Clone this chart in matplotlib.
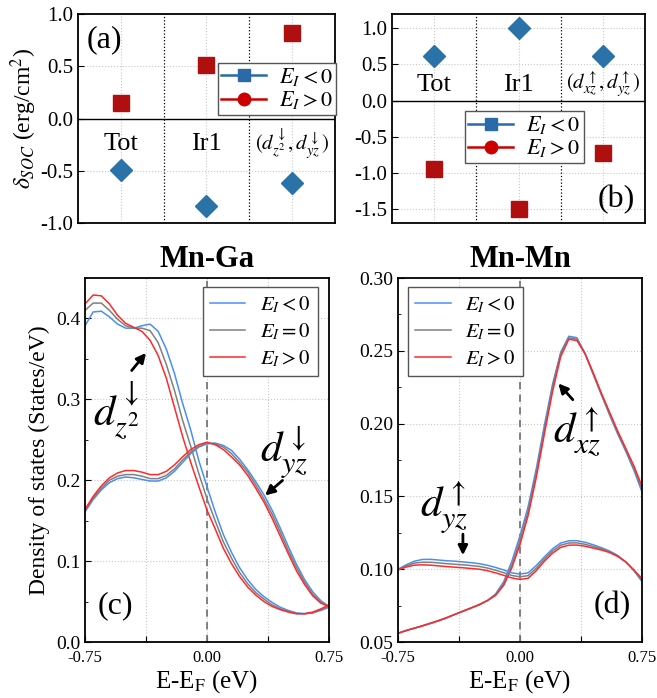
import numpy as np
import matplotlib
matplotlib.use('Agg')
import matplotlib.pyplot as plt
from matplotlib.lines import Line2D
from matplotlib.ticker import MultipleLocator

plt.rcParams['font.family'] = 'serif'
plt.rcParams['font.serif'] = ['Liberation Serif', 'DejaVu Serif']
plt.rcParams['mathtext.fontset'] = 'stix'

# top panels: SOC energy per site / orbital
cats = [1, 2, 3]
cat_names_a = ['Tot', 'Ir1', r'$(d^{\downarrow}_{z^2},d^{\downarrow}_{yz})$']
cat_names_b = ['Tot', 'Ir1', r'$(d^{\uparrow}_{xz},d^{\uparrow}_{yz})$']
soc_a_neg = [-0.49, -0.84, -0.62]
soc_a_pos = [0.15, 0.51, 0.82]
soc_b_neg = [0.62, 1.00, 0.62]
soc_b_pos = [-0.95, -1.50, -0.73]

# bottom panels: projected DOS
energy = [-0.75, -0.70, -0.65, -0.60, -0.55, -0.50, -0.45, -0.40, -0.35, -0.30, -0.25,
          -0.20, -0.15, -0.10, -0.05, 0.00, 0.05, 0.10, 0.15, 0.20, 0.25,
          0.30, 0.35, 0.40, 0.45, 0.50, 0.55, 0.60, 0.65, 0.70, 0.75]

c_z2_neg = [0.391, 0.408, 0.409, 0.402, 0.393, 0.388, 0.388, 0.391, 0.393, 0.384, 0.362, 0.332,
            0.295, 0.262, 0.224, 0.192, 0.161, 0.133, 0.111,
            0.092, 0.077, 0.065, 0.056, 0.049, 0.043, 0.039, 0.036, 0.035, 0.036, 0.039, 0.043]
c_z2_zero = [0.410, 0.419, 0.419, 0.410, 0.399, 0.391, 0.388, 0.388, 0.385, 0.370, 0.343, 0.311,
             0.274, 0.242, 0.208, 0.177, 0.150, 0.124, 0.104,
             0.086, 0.072, 0.061, 0.053, 0.046, 0.041, 0.038, 0.035, 0.035, 0.036, 0.040, 0.044]
c_z2_pos = [0.418, 0.429, 0.428, 0.418, 0.404, 0.394, 0.389, 0.384, 0.373, 0.354, 0.326, 0.290,
            0.254, 0.222, 0.192, 0.163, 0.140, 0.116, 0.097,
            0.081, 0.068, 0.058, 0.050, 0.044, 0.040, 0.037, 0.035, 0.035, 0.037, 0.041, 0.046]

c_yz_neg = [0.161, 0.176, 0.188, 0.197, 0.202, 0.204, 0.203, 0.201, 0.199, 0.199, 0.203, 0.211,
            0.222, 0.233, 0.241, 0.245,
            0.246, 0.243, 0.237, 0.226, 0.213, 0.198, 0.182, 0.163, 0.141, 0.118, 0.096, 0.077, 0.062, 0.051, 0.044]
c_yz_zero = [0.162, 0.178, 0.190, 0.200, 0.205, 0.207, 0.207, 0.205, 0.202, 0.202, 0.206, 0.214,
             0.225, 0.235, 0.242, 0.246,
             0.245, 0.241, 0.233, 0.222, 0.210, 0.194, 0.177, 0.158, 0.136, 0.113, 0.092, 0.074, 0.059, 0.049, 0.044]
c_yz_pos = [0.164, 0.180, 0.193, 0.203, 0.209, 0.212, 0.212, 0.210, 0.207, 0.207, 0.211, 0.219,
            0.229, 0.238, 0.244, 0.247,
            0.244, 0.238, 0.229, 0.219, 0.206, 0.190, 0.173, 0.153, 0.131, 0.109, 0.088, 0.071, 0.057, 0.048, 0.044]

d_xz_neg = [0.056, 0.058, 0.0595, 0.061, 0.0627, 0.0645, 0.0666, 0.069, 0.0712, 0.0733, 0.0755, 0.0785,
            0.083, 0.0915, 0.1055, 0.123,
            0.143, 0.169, 0.199, 0.227, 0.249, 0.260, 0.259, 0.248, 0.234, 0.220, 0.206, 0.193, 0.181, 0.168, 0.153]
d_xz_zero = [0.056, 0.0579, 0.0595, 0.0611, 0.0628, 0.0646, 0.0667, 0.069, 0.0712, 0.0734, 0.0756, 0.0785,
             0.0825, 0.090, 0.103, 0.120,
             0.140, 0.166, 0.196, 0.225, 0.248, 0.259, 0.258, 0.248, 0.234, 0.220, 0.207, 0.194, 0.182, 0.169, 0.155]
d_xz_pos = [0.056, 0.0578, 0.0595, 0.0612, 0.063, 0.0648, 0.0668, 0.069, 0.0712, 0.0735, 0.0758, 0.0785,
            0.082, 0.089, 0.101, 0.117,
            0.137, 0.163, 0.193, 0.222, 0.246, 0.258, 0.257, 0.248, 0.235, 0.221, 0.208, 0.195, 0.183, 0.171, 0.157]

d_yz_neg = [0.100, 0.103, 0.1055, 0.1067, 0.1068, 0.1063, 0.1058, 0.1055, 0.1050, 0.1045, 0.1038, 0.1027,
            0.1012, 0.0995, 0.0975, 0.0967,
            0.0975, 0.1025, 0.1085, 0.1140, 0.1180, 0.1195, 0.1196, 0.1185, 0.1168, 0.1148, 0.1125, 0.1095, 0.1050, 0.0990, 0.0915]
d_yz_zero = [0.0997, 0.1022, 0.1042, 0.1048, 0.1048, 0.1043, 0.1038, 0.1034, 0.1030, 0.1025, 0.1019, 0.1008,
             0.0993, 0.0976, 0.0957, 0.0948,
             0.0956, 0.1007, 0.1070, 0.1125, 0.1165, 0.1180, 0.1181, 0.1171, 0.1156, 0.1140, 0.1120, 0.1092, 0.1050, 0.0992, 0.0925]
d_yz_pos = [0.0995, 0.1015, 0.1028, 0.1030, 0.1028, 0.1023, 0.1018, 0.1014, 0.1010, 0.1005, 0.1000, 0.0990,
            0.0975, 0.0958, 0.0940, 0.0930,
            0.0938, 0.0990, 0.1055, 0.1110, 0.1150, 0.1165, 0.1166, 0.1158, 0.1145, 0.1132, 0.1115, 0.1088, 0.1050, 0.0995, 0.0935]

field_labels = [r'$E_I<0$', r'$E_I=0$', r'$E_I>0$']

col_dia = '#2a72a8'
col_sq = '#b00f0f'
col_neg = '#4a8ff0'
col_zero = '#808080'
col_pos = '#ff2a2a'

fig = plt.figure(figsize=(6.57, 6.98), dpi=100)
ax_a = fig.add_axes([0.1187, 0.6805, 0.3912, 0.2994])
ax_b = fig.add_axes([0.5967, 0.6805, 0.3851, 0.2994])
ax_c = fig.add_axes([0.1294, 0.0802, 0.3714, 0.5215])
ax_d = fig.add_axes([0.6058, 0.0802, 0.3714, 0.5215])


def soc_panel(ax, neg, pos, names, ylim, label_y, yticks):
    ax.grid(True, ls=':', color='#c8c8c8', lw=0.8)
    ax.set_axisbelow(True)
    ax.axhline(0, color='k', lw=1.0)
    for xs in [1.5, 2.5]:
        ax.axvline(xs, color='k', ls=':', lw=0.9)
    ax.plot(cats, pos, 's', color=col_sq, ms=11, ls='none')
    ax.plot(cats, neg, 'D', color=col_dia, ms=11, ls='none')
    for i in range(3):
        fs = 19 if i < 2 else 15
        ax.text(cats[i], label_y, names[i], ha='center', va='center', fontsize=fs)
    ax.set_xlim(0.5, 3.5)
    ax.set_ylim(ylim)
    ax.set_xticks(cats)
    ax.set_xticklabels([])
    ax.set_yticks(yticks)
    ax.set_yticklabels(['%.1f' % v for v in yticks])
    ax.tick_params(axis='x', length=0)
    ax.tick_params(axis='y', direction='in', length=4, labelsize=15)
    for s in ax.spines.values():
        s.set_linewidth(1.3)
    handles = [Line2D([0], [0], color='#2a6aa8', marker='s', ms=9, lw=1.8),
               Line2D([0], [0], color='#cc0000', marker='o', ms=9, lw=1.8)]
    return handles


h = soc_panel(ax_a, soc_a_neg, soc_a_pos, cat_names_a, (-1.0, 1.0), -0.24,
              [-1.0, -0.5, 0.0, 0.5, 1.0])
ax_a.legend(h, [field_labels[0], field_labels[2]], loc='upper left', bbox_to_anchor=(0.545, 0.766),
            fontsize=16, fancybox=False, edgecolor='#555555', framealpha=1, borderpad=0.15,
            handlelength=2.0, labelspacing=0.05, handletextpad=0.6, borderaxespad=0)
ax_a.text(0.035, 0.945, '(a)', transform=ax_a.transAxes, fontsize=23, ha='left', va='top')
ax_a.set_ylabel(r'$\delta_{SOC}$ (erg/cm$^2$)', fontsize=17, labelpad=1)

h = soc_panel(ax_b, soc_b_neg, soc_b_pos, cat_names_b, (-1.7, 1.2), 0.22,
              [-1.5, -1.0, -0.5, 0.0, 0.5, 1.0])
ax_b.legend(h, [field_labels[0], field_labels[2]], loc='upper left', bbox_to_anchor=(0.289, 0.536),
            fontsize=16, fancybox=False, edgecolor='#555555', framealpha=1, borderpad=0.15,
            handlelength=2.0, labelspacing=0.05, handletextpad=0.6, borderaxespad=0)
ax_b.text(0.96, 0.04, '(b)', transform=ax_b.transAxes, fontsize=23, ha='right', va='bottom')


def dos_panel(ax, curves, ylim, ymajor, yminor, fmt):
    ax.grid(True, ls=':', color='#c8c8c8', lw=0.8)
    ax.set_axisbelow(True)
    ax.axvline(0, color='#777777', ls=(0, (4, 3)), lw=1.3)
    lines = []
    for ys in curves:
        l1, = ax.plot(energy, ys[0], color=col_neg, lw=1.1)
        l2, = ax.plot(energy, ys[1], color=col_zero, lw=1.1)
        l3, = ax.plot(energy, ys[2], color=col_pos, lw=1.1)
        lines = [l1, l2, l3]
    ax.set_xlim(-0.75, 0.75)
    ax.set_ylim(ylim)
    ax.set_xticks([-0.75, -0.375, 0.0, 0.375, 0.75])
    ax.set_xticklabels(['-0.75', '', '0.00', '', '0.75'])
    ax.yaxis.set_major_locator(MultipleLocator(ymajor))
    ax.yaxis.set_minor_locator(MultipleLocator(yminor))
    ax.yaxis.set_major_formatter(plt.FormatStrFormatter(fmt))
    ax.tick_params(which='both', direction='in', labelsize=14)
    ax.tick_params(which='major', length=4)
    ax.tick_params(which='minor', length=2.5)
    ax.tick_params(axis='x', labelsize=12, pad=6)
    for s in ax.spines.values():
        s.set_linewidth(1.3)
    ax.set_xlabel(r'E-E$_\mathrm{F}$ (eV)', fontsize=18, labelpad=1)
    return lines


lines = dos_panel(ax_c, [[c_z2_neg, c_z2_zero, c_z2_pos], [c_yz_neg, c_yz_zero, c_yz_pos]],
                  (0.0, 0.45), 0.1, 0.05, '%.1f')
ax_c.legend(lines, field_labels, loc='upper right', bbox_to_anchor=(0.955, 0.975), fontsize=15,
            fancybox=False, edgecolor='#555555', framealpha=1, borderpad=0.35,
            handlelength=1.7, labelspacing=0.3, handletextpad=0.7, borderaxespad=0)
ax_c.set_ylabel('Density of states (States/eV)', fontsize=17, labelpad=4)
ax_c.set_title('Mn-Ga', fontsize=22, fontweight='bold', pad=8)
ax_c.text(0.05, 0.06, '(c)', transform=ax_c.transAxes, fontsize=23, ha='left', va='bottom')
ax_c.text(-0.70, 0.268, r'$d^{\downarrow}_{z^2}$', fontsize=31)
ax_c.text(0.325, 0.223, r'$d^{\downarrow}_{yz}$', fontsize=31)
ax_c.annotate('', xy=(-0.364, 0.36), xytext=(-0.474, 0.333),
              arrowprops=dict(arrowstyle='-|>', color='k', lw=2, mutation_scale=14))
ax_c.annotate('', xy=(0.344, 0.179), xytext=(0.477, 0.202),
              arrowprops=dict(arrowstyle='-|>', color='k', lw=2, mutation_scale=14))

lines = dos_panel(ax_d, [[d_xz_neg, d_xz_zero, d_xz_pos], [d_yz_neg, d_yz_zero, d_yz_pos]],
                  (0.05, 0.30), 0.05, 0.025, '%.2f')
ax_d.legend(lines, field_labels, loc='upper left', bbox_to_anchor=(0.041, 0.975), fontsize=15,
            fancybox=False, edgecolor='#555555', framealpha=1, borderpad=0.35,
            handlelength=1.7, labelspacing=0.3, handletextpad=0.7, borderaxespad=0)
ax_d.set_title('Mn-Mn', fontsize=22, fontweight='bold', pad=8)
ax_d.text(0.955, 0.06, '(d)', transform=ax_d.transAxes, fontsize=23, ha='right', va='bottom')
ax_d.text(0.205, 0.1867, r'$d^{\uparrow}_{xz}$', fontsize=31)
ax_d.text(-0.615, 0.136, r'$d^{\uparrow}_{yz}$', fontsize=31)
ax_d.annotate('', xy=(0.224, 0.229), xytext=(0.336, 0.215),
              arrowprops=dict(arrowstyle='-|>', color='k', lw=2, mutation_scale=14))
ax_d.annotate('', xy=(-0.351, 0.1077), xytext=(-0.351, 0.126),
              arrowprops=dict(arrowstyle='-|>', color='k', lw=2, mutation_scale=14))

fig.savefig('out.png', dpi=100)
